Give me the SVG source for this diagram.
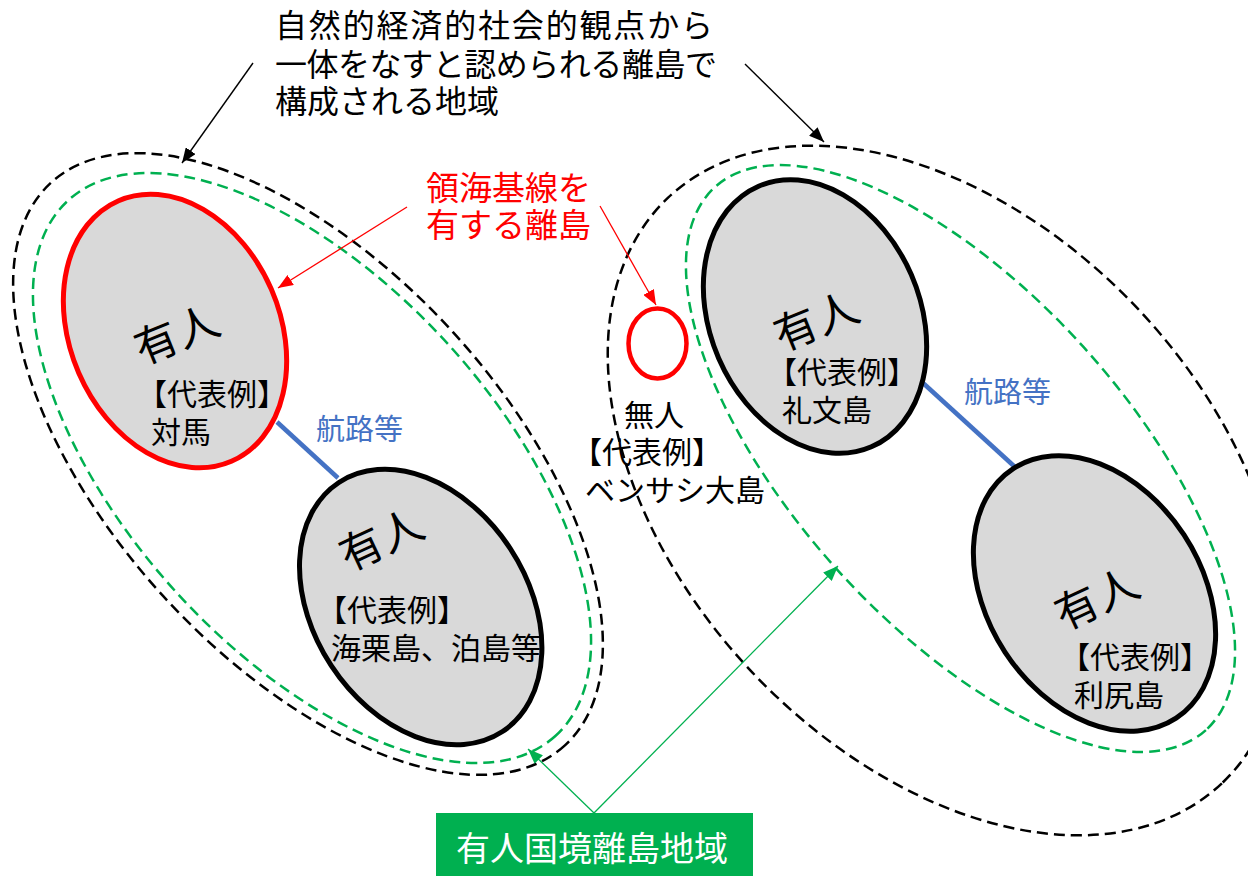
<svg xmlns="http://www.w3.org/2000/svg" width="1248" height="876" viewBox="0 0 1248 876">
<style>
text{font-family:"Noto Sans CJK JP","Noto Sans",sans-serif;}
.t{font-size:32px;fill:#000;}
.lbl{font-size:30px;fill:#000;}
.big{font-size:43px;fill:#000;}
.red{font-size:33px;fill:#ff0000;}
.blue{font-size:29px;fill:#4472c4;}
.white{font-size:34px;fill:#ffffff;}
.dk{fill:none;stroke:#000;stroke-width:2.5;stroke-dasharray:11 6;}
.dg{fill:none;stroke:#00b050;stroke-width:2.5;stroke-dasharray:11 6;}
.isl{fill:#d9d9d9;stroke:#000;stroke-width:5;}
.isr{fill:#d9d9d9;stroke:#ff0000;stroke-width:5;}
.route{stroke:#4472c4;stroke-width:4.5;fill:none;}
.ak{stroke:#000;stroke-width:1.4;fill:none;}
.ar{stroke:#ff0000;stroke-width:1.3;fill:none;}
.ag{stroke:#00b050;stroke-width:1.3;fill:none;}
</style>
<defs>
<marker id="hk" markerUnits="userSpaceOnUse" markerWidth="16" markerHeight="12" refX="15" refY="6" orient="auto"><path d="M0,0 L15,6 L0,12 z" fill="#000"/></marker>
<marker id="hr" markerUnits="userSpaceOnUse" markerWidth="16" markerHeight="12" refX="15" refY="6" orient="auto"><path d="M0,0 L15,6 L0,12 z" fill="#ff0000"/></marker>
<marker id="hg" markerUnits="userSpaceOnUse" markerWidth="16" markerHeight="12" refX="15" refY="6" orient="auto"><path d="M0,0 L15,6 L0,12 z" fill="#00b050"/></marker>
</defs>
<rect width="1248" height="876" fill="#ffffff"/>

<g id="region-left">
<ellipse class="dk" cx="308" cy="464" rx="381" ry="196" transform="rotate(47.6 308 464)"/>
<ellipse class="dg" cx="312" cy="468" rx="362" ry="184" transform="rotate(47.7 312 468)"/>
</g>
<g id="region-right">
<ellipse class="dk" cx="945" cy="490.5" rx="403" ry="265" transform="rotate(46.6 945 490.5)"/>
<ellipse class="dg" cx="960.5" cy="458.5" rx="366" ry="166" transform="rotate(47.9 960.5 458.5)"/>
</g>

<g id="connectors">
<line class="route" x1="277" y1="422" x2="338" y2="478"/>
<line class="route" x1="923" y1="383" x2="1015" y2="467"/>
<line class="ak" x1="253" y1="63" x2="182" y2="163" marker-end="url(#hk)"/>
<line class="ak" x1="745" y1="64" x2="824" y2="142" marker-end="url(#hk)"/>
<line class="ar" x1="407" y1="207" x2="278" y2="288" marker-end="url(#hr)"/>
<line class="ar" x1="600" y1="206" x2="656" y2="305" marker-end="url(#hr)"/>
<line class="ag" x1="594" y1="813" x2="528" y2="749" marker-end="url(#hg)"/>
<line class="ag" x1="594" y1="813" x2="838" y2="566" marker-end="url(#hg)"/>
</g>

<g id="title">
<text class="t" x="275" y="37" textLength="438" lengthAdjust="spacing">自然的経済的社会的観点から</text>
<text class="t" x="275" y="76" textLength="442" lengthAdjust="spacing">一体をなすと認められる離島で</text>
<text class="t" x="275" y="113">構成される地域</text>
</g>

<g id="baseline-label">
<text class="red" x="426" y="200">領海基線を</text>
<text class="red" x="426" y="237">有する離島</text>
</g>

<g id="island-tsushima">
<ellipse class="isr" cx="175" cy="331" rx="105" ry="142" transform="rotate(-23.4 175 331)"/>
<text class="big" text-anchor="middle" x="-22 22" y="15" transform="translate(177 335) rotate(-22)">有人</text>
<text class="lbl" x="137" y="405">【代表例】</text>
<text class="lbl" x="151" y="443">対馬</text>
</g>

<g id="island-unazuki">
<ellipse class="isl" cx="420.7" cy="607" rx="107" ry="149" transform="rotate(-33.3 420.7 607)"/>
<text class="big" text-anchor="middle" x="-22 22" y="15" transform="translate(381.5 540) rotate(-25)">有人</text>
<text class="lbl" x="317" y="621">【代表例】</text>
<text class="lbl" x="331" y="659">海栗島、泊島等</text>
</g>

<g id="route-left-label">
<text class="blue" x="316" y="440">航路等</text>
</g>

<g id="island-unmanned">
<ellipse cx="657.5" cy="343.5" rx="29" ry="35" fill="none" stroke="#ff0000" stroke-width="4.5"/>
<text class="lbl" x="624" y="426">無人</text>
<text class="lbl" x="572" y="463">【代表例】</text>
<text class="lbl" x="585" y="501">ベンサシ大島</text>
</g>

<g id="island-rebun">
<ellipse class="isl" cx="815" cy="316.5" rx="105" ry="142" transform="rotate(-23.4 815 316.5)"/>
<text class="big" text-anchor="middle" x="-22 22" y="15" transform="translate(816.5 321.5) rotate(-22)">有人</text>
<text class="lbl" x="767" y="383">【代表例】</text>
<text class="lbl" x="782" y="421">礼文島</text>
</g>

<g id="route-right-label">
<text class="blue" x="964" y="403">航路等</text>
</g>

<g id="island-rishiri">
<ellipse class="isl" cx="1094.5" cy="593.5" rx="107" ry="149" transform="rotate(-33.2 1094.5 593.5)"/>
<text class="big" text-anchor="middle" x="-22 22" y="15" transform="translate(1097 599) rotate(-25)">有人</text>
<text class="lbl" x="1060" y="668">【代表例】</text>
<text class="lbl" x="1074" y="706">利尻島</text>
</g>

<g id="border-label">
<rect x="436" y="813" width="317" height="63" fill="#00b050"/>
<text class="white" x="456" y="861">有人国境離島地域</text>
</g>
</svg>
